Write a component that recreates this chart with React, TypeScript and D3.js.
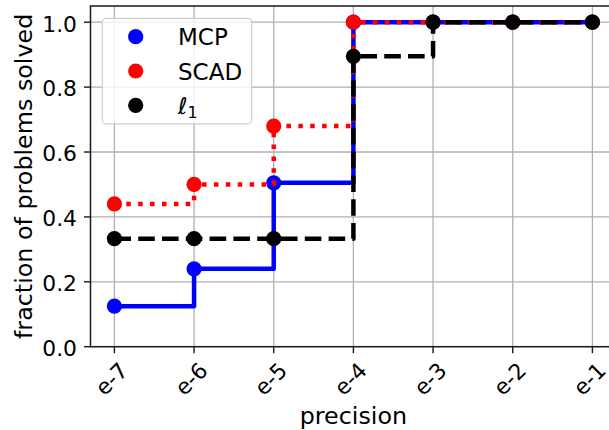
import React from "react";
import * as d3 from "d3";

const categories = ["e-7", "e-6", "e-5", "e-4", "e-3", "e-2", "e-1"];
const mcpValues = [0.125, 0.24, 0.505, 1.0, 1.0, 1.0, 1.0];
const scadValues = [0.44, 0.5, 0.68, 1.0, 1.0, 1.0, 1.0];
const l1Values = [0.333, 0.333, 0.333, 0.895, 1.0, 1.0, 1.0];
const yTicks = [0, 0.2, 0.4, 0.6, 0.8, 1.0];

const W = 609;
const H = 430;
const FONT = "DejaVu Sans, sans-serif";

const series = [
  { name: "MCP", values: mcpValues, color: "#0000ff", dash: "none" },
  { name: "SCAD", values: scadValues, color: "#ff0000", dash: "4.5 7.4" },
  { name: "l1", values: l1Values, color: "#000000", dash: "16.6 7.2" },
];

export default function App() {
  const x = d3.scaleLinear().domain([-0.3, 6.3]).range([90.5, 616.3]);
  const y = d3.scaleLinear().domain([0, 1.05]).range([346.7, 6]);
  const left = x.range()[0];
  const right = x.range()[1];
  const top = y.range()[1];
  const bottom = y.range()[0];

  const line = d3
    .line<number>()
    .x((_, i) => x(i))
    .y((d) => y(d))
    .curve(d3.curveStepAfter);

  const legendY = [36.7, 71, 105.3];

  return (
    <svg
      width={W}
      height={H}
      style={{ position: "absolute", left: 0, top: 0, background: "#fff" }}
      fontFamily={FONT}
    >
      <rect x={0} y={0} width={W} height={H} fill="#fff" />
      {/* grid */}
      {categories.map((c, i) => (
        <line key={"gx" + c} x1={x(i)} x2={x(i)} y1={top} y2={bottom} stroke="#b0b0b0" strokeWidth={1.3} />
      ))}
      {yTicks.map((t) => (
        <line key={"gy" + t} x1={left} x2={right} y1={y(t)} y2={y(t)} stroke="#b0b0b0" strokeWidth={1.3} />
      ))}
      {/* series */}
      {series.map((s) => (
        <g key={s.name}>
          <path
            d={line(s.values) || ""}
            fill="none"
            stroke={s.color}
            strokeWidth={4.5}
            strokeDasharray={s.dash}
            strokeLinecap="butt"
            strokeLinejoin="round"
          />
          {s.values.map((v, i) => (
            <circle key={i} cx={x(i)} cy={y(v)} r={7.6} fill={s.color} />
          ))}
        </g>
      ))}
      {/* spines */}
      <rect x={left} y={top} width={right - left} height={bottom - top} fill="none" stroke="#1a1a1a" strokeWidth={1.5} />
      {/* y ticks */}
      {yTicks.map((t) => (
        <g key={"yt" + t}>
          <line x1={left - 6.5} x2={left} y1={y(t)} y2={y(t)} stroke="#1a1a1a" strokeWidth={1.4} />
          <text x={77} y={y(t) + 9.3} textAnchor="end" fontSize={21.8} fill="#000">
            {t.toFixed(1)}
          </text>
        </g>
      ))}
      {/* x ticks */}
      {categories.map((c, i) => (
        <g key={"xt" + c}>
          <line x1={x(i)} x2={x(i)} y1={bottom} y2={bottom + 6.5} stroke="#1a1a1a" strokeWidth={1.4} />
          <text
            x={x(i) - 2.8}
            y={379}
            textAnchor="middle"
            dominantBaseline="central"
            fontSize={21.8}
            fill="#000"
            transform={`rotate(-45, ${x(i) - 2.8}, 379)`}
          >
            {c}
          </text>
        </g>
      ))}
      {/* axis labels */}
      <text x={(left + right) / 2} y={424} textAnchor="middle" fontSize={23.8} fill="#000">
        precision
      </text>
      <text
        x={0}
        y={0}
        textAnchor="middle"
        fontSize={23.8}
        fill="#000"
        transform={`translate(32, ${(top + bottom) / 2}) rotate(-90)`}
      >
        fraction of problems solved
      </text>
      {/* legend */}
      <rect x={102.3} y={18.3} width={149.4} height={105.5} rx={4} ry={4} fill="#fff" fillOpacity={0.8} stroke="#d0d0d0" strokeWidth={1.2} />
      {series.map((s, i) => (
        <g key={"lg" + s.name}>
          <circle cx={135.7} cy={legendY[i]} r={7.6} fill={s.color} />
          {s.name === "l1" ? (
            <text x={178} y={legendY[i] + 8.7} fontSize={23} fill="#000">
              <tspan fontStyle="italic">ℓ</tspan>
              <tspan fontSize={16} dy={4}>1</tspan>
            </text>
          ) : (
            <text x={178} y={legendY[i] + 8.7} fontSize={23} fill="#000">
              {s.name}
            </text>
          )}
        </g>
      ))}
    </svg>
  );
}
